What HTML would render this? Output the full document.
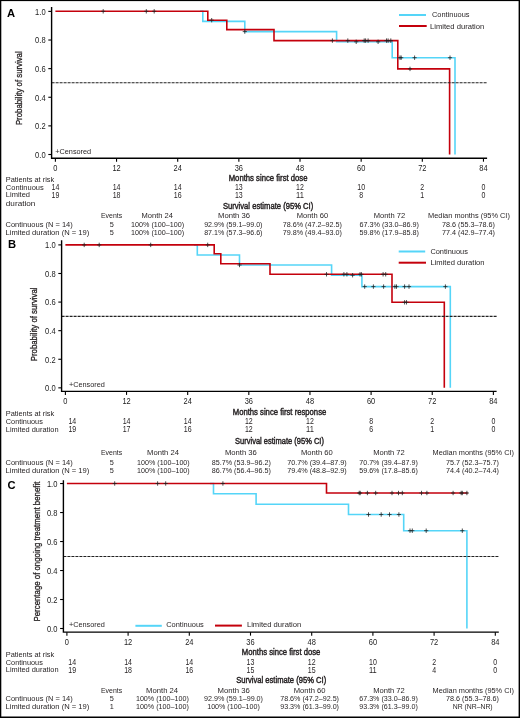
<!DOCTYPE html><html><head><meta charset="utf-8"><style>html,body{margin:0;padding:0;background:#fff;}svg{display:block;will-change:transform;}</style></head><body>
<svg width="520" height="718" viewBox="0 0 520 718" font-family="'Liberation Sans', sans-serif" fill="#231f20">
<rect x="0" y="0" width="520" height="718" fill="#fff"/>
<text x="6.90" y="17.00" font-size="11.2" font-weight="bold" fill="#000">A</text>
<g transform="translate(22.00,88.20) rotate(-90)">
<text x="-36.90" y="0.00" font-size="9.5" textLength="73.80" lengthAdjust="spacingAndGlyphs" stroke="#231f20" stroke-width="0.3">Probability of survival</text>
</g>
<polyline points="200.00,11.30 202.80,11.30 202.80,21.40 244.80,21.40 244.80,31.60 336.60,31.60 336.60,41.80 392.20,41.80 392.20,57.70 455.00,57.70 455.00,154.50" fill="none" stroke="#55d5f8" stroke-width="1.6" stroke-linejoin="miter" stroke-linecap="butt"/>
<polyline points="55.40,11.30 207.80,11.30 207.80,20.20 226.80,20.20 226.80,29.60 274.00,29.60 274.00,40.60 397.80,40.60 397.80,68.90 449.60,68.90 449.60,154.50" fill="none" stroke="#c4000c" stroke-width="1.6" stroke-linejoin="miter" stroke-linecap="butt"/>
<path d="M242.70 31.60H246.90M244.80 29.40V33.80" stroke="#222" stroke-width="0.8" fill="none"/>
<path d="M354.10 41.80H358.30M356.20 39.60V44.00" stroke="#222" stroke-width="0.8" fill="none"/>
<path d="M376.00 41.80H380.20M378.10 39.60V44.00" stroke="#222" stroke-width="0.8" fill="none"/>
<path d="M397.90 57.70H402.10M400.00 55.50V59.90" stroke="#222" stroke-width="0.8" fill="none"/>
<path d="M399.10 57.70H403.30M401.20 55.50V59.90" stroke="#222" stroke-width="0.8" fill="none"/>
<path d="M412.50 57.70H416.70M414.60 55.50V59.90" stroke="#222" stroke-width="0.8" fill="none"/>
<path d="M447.90 57.70H452.10M450.00 55.50V59.90" stroke="#222" stroke-width="0.8" fill="none"/>
<path d="M101.10 11.30H105.30M103.20 9.10V13.50" stroke="#222" stroke-width="0.8" fill="none"/>
<path d="M144.20 11.30H148.40M146.30 9.10V13.50" stroke="#222" stroke-width="0.8" fill="none"/>
<path d="M152.10 11.30H156.30M154.20 9.10V13.50" stroke="#222" stroke-width="0.8" fill="none"/>
<path d="M209.60 20.20H213.80M211.70 18.00V22.40" stroke="#222" stroke-width="0.8" fill="none"/>
<path d="M330.30 40.60H334.50M332.40 38.40V42.80" stroke="#222" stroke-width="0.8" fill="none"/>
<path d="M345.70 40.60H349.90M347.80 38.40V42.80" stroke="#222" stroke-width="0.8" fill="none"/>
<path d="M362.10 40.60H366.30M364.20 38.40V42.80" stroke="#222" stroke-width="0.8" fill="none"/>
<path d="M363.50 40.60H367.70M365.60 38.40V42.80" stroke="#222" stroke-width="0.8" fill="none"/>
<path d="M366.00 40.60H370.20M368.10 38.40V42.80" stroke="#222" stroke-width="0.8" fill="none"/>
<path d="M384.40 40.60H388.60M386.50 38.40V42.80" stroke="#222" stroke-width="0.8" fill="none"/>
<path d="M386.00 40.60H390.20M388.10 38.40V42.80" stroke="#222" stroke-width="0.8" fill="none"/>
<path d="M388.70 40.60H392.90M390.80 38.40V42.80" stroke="#222" stroke-width="0.8" fill="none"/>
<path d="M407.90 68.90H412.10M410.00 66.70V71.10" stroke="#222" stroke-width="0.8" fill="none"/>
<line x1="51.60" y1="82.70" x2="487.00" y2="82.70" stroke="#222" stroke-width="1.15" stroke-dasharray="3 1"/>
<path d="M51.60 6.90V158.20H487.10" stroke="#000" stroke-width="1.4" fill="none" stroke-linecap="butt" stroke-linejoin="miter"/>
<line x1="48.30" y1="154.50" x2="51.60" y2="154.50" stroke="#000" stroke-width="1.1"/>
<text x="35.10" y="157.80" font-size="8.6" textLength="10.50" lengthAdjust="spacingAndGlyphs" fill="#222">0.0</text>
<line x1="48.30" y1="125.88" x2="51.60" y2="125.88" stroke="#000" stroke-width="1.1"/>
<text x="35.10" y="129.18" font-size="8.6" textLength="10.50" lengthAdjust="spacingAndGlyphs" fill="#222">0.2</text>
<line x1="48.30" y1="97.26" x2="51.60" y2="97.26" stroke="#000" stroke-width="1.1"/>
<text x="35.10" y="100.56" font-size="8.6" textLength="10.50" lengthAdjust="spacingAndGlyphs" fill="#222">0.4</text>
<line x1="48.30" y1="68.64" x2="51.60" y2="68.64" stroke="#000" stroke-width="1.1"/>
<text x="35.10" y="71.94" font-size="8.6" textLength="10.50" lengthAdjust="spacingAndGlyphs" fill="#222">0.6</text>
<line x1="48.30" y1="40.02" x2="51.60" y2="40.02" stroke="#000" stroke-width="1.1"/>
<text x="35.10" y="43.32" font-size="8.6" textLength="10.50" lengthAdjust="spacingAndGlyphs" fill="#222">0.8</text>
<line x1="48.30" y1="11.40" x2="51.60" y2="11.40" stroke="#000" stroke-width="1.1"/>
<text x="35.10" y="14.70" font-size="8.6" textLength="10.50" lengthAdjust="spacingAndGlyphs" fill="#222">1.0</text>
<line x1="55.40" y1="158.20" x2="55.40" y2="161.70" stroke="#000" stroke-width="1.1"/>
<text x="53.32" y="170.50" font-size="8.6" textLength="4.15" lengthAdjust="spacingAndGlyphs" fill="#222">0</text>
<line x1="116.55" y1="158.20" x2="116.55" y2="161.70" stroke="#000" stroke-width="1.1"/>
<text x="112.40" y="170.50" font-size="8.6" textLength="8.30" lengthAdjust="spacingAndGlyphs" fill="#222">12</text>
<line x1="177.70" y1="158.20" x2="177.70" y2="161.70" stroke="#000" stroke-width="1.1"/>
<text x="173.55" y="170.50" font-size="8.6" textLength="8.30" lengthAdjust="spacingAndGlyphs" fill="#222">24</text>
<line x1="238.86" y1="158.20" x2="238.86" y2="161.70" stroke="#000" stroke-width="1.1"/>
<text x="234.71" y="170.50" font-size="8.6" textLength="8.30" lengthAdjust="spacingAndGlyphs" fill="#222">36</text>
<line x1="300.01" y1="158.20" x2="300.01" y2="161.70" stroke="#000" stroke-width="1.1"/>
<text x="295.86" y="170.50" font-size="8.6" textLength="8.30" lengthAdjust="spacingAndGlyphs" fill="#222">48</text>
<line x1="361.16" y1="158.20" x2="361.16" y2="161.70" stroke="#000" stroke-width="1.1"/>
<text x="357.01" y="170.50" font-size="8.6" textLength="8.30" lengthAdjust="spacingAndGlyphs" fill="#222">60</text>
<line x1="422.31" y1="158.20" x2="422.31" y2="161.70" stroke="#000" stroke-width="1.1"/>
<text x="418.16" y="170.50" font-size="8.6" textLength="8.30" lengthAdjust="spacingAndGlyphs" fill="#222">72</text>
<line x1="483.46" y1="158.20" x2="483.46" y2="161.70" stroke="#000" stroke-width="1.1"/>
<text x="479.31" y="170.50" font-size="8.6" textLength="8.30" lengthAdjust="spacingAndGlyphs" fill="#222">84</text>
<text x="55.20" y="153.60" font-size="7.3" textLength="36.00" lengthAdjust="spacingAndGlyphs">+Censored</text>
<line x1="399.00" y1="15.00" x2="426.00" y2="15.00" stroke="#55d5f8" stroke-width="2.0"/>
<line x1="399.00" y1="26.00" x2="426.70" y2="26.00" stroke="#c4000c" stroke-width="2.0"/>
<text x="432.00" y="17.30" font-size="7.3" textLength="37.50" lengthAdjust="spacingAndGlyphs">Continuous</text>
<text x="430.00" y="28.50" font-size="7.3" textLength="54.30" lengthAdjust="spacingAndGlyphs">Limited duration</text>
<text x="228.70" y="180.60" font-size="9.2" textLength="78.80" lengthAdjust="spacingAndGlyphs" stroke="#231f20" stroke-width="0.45">Months since first dose</text>
<text x="5.80" y="181.50" font-size="7.3" textLength="48.40" lengthAdjust="spacingAndGlyphs">Patients at risk</text>
<text x="5.80" y="189.60" font-size="7.3" textLength="38.00" lengthAdjust="spacingAndGlyphs">Continuous</text>
<text x="5.80" y="197.30" font-size="7.3" textLength="24.20" lengthAdjust="spacingAndGlyphs">Limited</text>
<text x="5.80" y="205.80" font-size="7.3" textLength="29.60" lengthAdjust="spacingAndGlyphs">duration</text>
<text x="51.50" y="189.90" font-size="8.4" textLength="7.80" lengthAdjust="spacingAndGlyphs">14</text>
<text x="112.65" y="189.90" font-size="8.4" textLength="7.80" lengthAdjust="spacingAndGlyphs">14</text>
<text x="173.80" y="189.90" font-size="8.4" textLength="7.80" lengthAdjust="spacingAndGlyphs">14</text>
<text x="234.96" y="189.90" font-size="8.4" textLength="7.80" lengthAdjust="spacingAndGlyphs">13</text>
<text x="296.11" y="189.90" font-size="8.4" textLength="7.80" lengthAdjust="spacingAndGlyphs">12</text>
<text x="357.26" y="189.90" font-size="8.4" textLength="7.80" lengthAdjust="spacingAndGlyphs">10</text>
<text x="420.36" y="189.90" font-size="8.4" textLength="3.90" lengthAdjust="spacingAndGlyphs">2</text>
<text x="481.51" y="189.90" font-size="8.4" textLength="3.90" lengthAdjust="spacingAndGlyphs">0</text>
<text x="51.50" y="198.10" font-size="8.4" textLength="7.80" lengthAdjust="spacingAndGlyphs">19</text>
<text x="112.65" y="198.10" font-size="8.4" textLength="7.80" lengthAdjust="spacingAndGlyphs">18</text>
<text x="173.80" y="198.10" font-size="8.4" textLength="7.80" lengthAdjust="spacingAndGlyphs">16</text>
<text x="234.96" y="198.10" font-size="8.4" textLength="7.80" lengthAdjust="spacingAndGlyphs">13</text>
<text x="296.11" y="198.10" font-size="8.4" textLength="7.80" lengthAdjust="spacingAndGlyphs">11</text>
<text x="359.21" y="198.10" font-size="8.4" textLength="3.90" lengthAdjust="spacingAndGlyphs">8</text>
<text x="420.36" y="198.10" font-size="8.4" textLength="3.90" lengthAdjust="spacingAndGlyphs">1</text>
<text x="481.51" y="198.10" font-size="8.4" textLength="3.90" lengthAdjust="spacingAndGlyphs">0</text>
<text x="222.90" y="208.50" font-size="9.2" textLength="90.40" lengthAdjust="spacingAndGlyphs" stroke="#231f20" stroke-width="0.45">Survival estimate (95% CI)</text>
<text x="101.00" y="218.30" font-size="7.3" textLength="21.20" lengthAdjust="spacingAndGlyphs">Events</text>
<text x="141.45" y="218.30" font-size="7.3" textLength="31.50" lengthAdjust="spacingAndGlyphs">Month 24</text>
<text x="218.00" y="218.30" font-size="7.3" textLength="32.00" lengthAdjust="spacingAndGlyphs">Month 36</text>
<text x="296.65" y="218.30" font-size="7.3" textLength="31.50" lengthAdjust="spacingAndGlyphs">Month 60</text>
<text x="373.65" y="218.30" font-size="7.3" textLength="31.50" lengthAdjust="spacingAndGlyphs">Month 72</text>
<text x="428.10" y="218.30" font-size="7.3" textLength="81.80" lengthAdjust="spacingAndGlyphs">Median months (95% CI)</text>
<text x="5.50" y="226.80" font-size="7.3" textLength="67.30" lengthAdjust="spacingAndGlyphs">Continuous (N = 14)</text>
<text x="111.70" y="226.80" font-size="7.3" text-anchor="middle">5</text>
<text x="131.10" y="226.80" font-size="7.3" textLength="53.00" lengthAdjust="spacingAndGlyphs">100% (100–100)</text>
<text x="204.15" y="226.80" font-size="7.3" textLength="58.30" lengthAdjust="spacingAndGlyphs">92.9% (59.1–99.0)</text>
<text x="282.80" y="226.80" font-size="7.3" textLength="59.00" lengthAdjust="spacingAndGlyphs">78.6% (47.2–92.5)</text>
<text x="359.45" y="226.80" font-size="7.3" textLength="59.50" lengthAdjust="spacingAndGlyphs">67.3% (33.0–86.9)</text>
<text x="442.00" y="226.80" font-size="7.3" textLength="53.00" lengthAdjust="spacingAndGlyphs">78.6 (55.3–78.6)</text>
<text x="5.50" y="234.90" font-size="7.3" textLength="83.80" lengthAdjust="spacingAndGlyphs">Limited duration (N = 19)</text>
<text x="111.70" y="234.90" font-size="7.3" text-anchor="middle">5</text>
<text x="131.10" y="234.90" font-size="7.3" textLength="53.00" lengthAdjust="spacingAndGlyphs">100% (100–100)</text>
<text x="204.15" y="234.90" font-size="7.3" textLength="58.30" lengthAdjust="spacingAndGlyphs">87.1% (57.3–96.6)</text>
<text x="282.80" y="234.90" font-size="7.3" textLength="59.00" lengthAdjust="spacingAndGlyphs">79.8% (49.4–93.0)</text>
<text x="359.45" y="234.90" font-size="7.3" textLength="59.50" lengthAdjust="spacingAndGlyphs">59.8% (17.9–85.8)</text>
<text x="442.00" y="234.90" font-size="7.3" textLength="53.00" lengthAdjust="spacingAndGlyphs">77.4 (42.9–77.4)</text>
<text x="8.00" y="248.20" font-size="11.2" font-weight="bold" fill="#000">B</text>
<g transform="translate(36.90,324.35) rotate(-90)">
<text x="-36.95" y="0.00" font-size="9.5" textLength="73.90" lengthAdjust="spacingAndGlyphs" stroke="#231f20" stroke-width="0.3">Probability of survival</text>
</g>
<polyline points="194.00,244.90 197.30,244.90 197.30,255.00 239.50,255.00 239.50,265.00 331.60,265.00 331.60,275.20 361.90,275.20 361.90,286.60 450.30,286.60 450.30,387.85" fill="none" stroke="#55d5f8" stroke-width="1.6" stroke-linejoin="miter" stroke-linecap="butt"/>
<polyline points="65.40,244.90 214.20,244.90 214.20,253.80 220.80,253.80 220.80,263.70 270.00,263.70 270.00,274.30 392.00,274.30 392.00,302.30 444.30,302.30 444.30,387.85" fill="none" stroke="#c4000c" stroke-width="1.6" stroke-linejoin="miter" stroke-linecap="butt"/>
<path d="M237.40 265.00H241.60M239.50 262.80V267.20" stroke="#222" stroke-width="0.8" fill="none"/>
<path d="M350.50 275.20H354.70M352.60 273.00V277.40" stroke="#222" stroke-width="0.8" fill="none"/>
<path d="M362.60 286.60H366.80M364.70 284.40V288.80" stroke="#222" stroke-width="0.8" fill="none"/>
<path d="M371.30 286.60H375.50M373.40 284.40V288.80" stroke="#222" stroke-width="0.8" fill="none"/>
<path d="M381.50 286.60H385.70M383.60 284.40V288.80" stroke="#222" stroke-width="0.8" fill="none"/>
<path d="M392.80 286.60H397.00M394.90 284.40V288.80" stroke="#222" stroke-width="0.8" fill="none"/>
<path d="M394.40 286.60H398.60M396.50 284.40V288.80" stroke="#222" stroke-width="0.8" fill="none"/>
<path d="M402.50 286.60H406.70M404.60 284.40V288.80" stroke="#222" stroke-width="0.8" fill="none"/>
<path d="M406.90 286.60H411.10M409.00 284.40V288.80" stroke="#222" stroke-width="0.8" fill="none"/>
<path d="M443.30 286.60H447.50M445.40 284.40V288.80" stroke="#222" stroke-width="0.8" fill="none"/>
<path d="M82.10 244.90H86.30M84.20 242.70V247.10" stroke="#222" stroke-width="0.8" fill="none"/>
<path d="M97.10 244.90H101.30M99.20 242.70V247.10" stroke="#222" stroke-width="0.8" fill="none"/>
<path d="M148.60 244.90H152.80M150.70 242.70V247.10" stroke="#222" stroke-width="0.8" fill="none"/>
<path d="M205.60 244.90H209.80M207.70 242.70V247.10" stroke="#222" stroke-width="0.8" fill="none"/>
<path d="M324.40 274.30H328.60M326.50 272.10V276.50" stroke="#222" stroke-width="0.8" fill="none"/>
<path d="M341.80 274.30H346.00M343.90 272.10V276.50" stroke="#222" stroke-width="0.8" fill="none"/>
<path d="M344.80 274.30H349.00M346.90 272.10V276.50" stroke="#222" stroke-width="0.8" fill="none"/>
<path d="M357.90 274.30H362.10M360.00 272.10V276.50" stroke="#222" stroke-width="0.8" fill="none"/>
<path d="M359.30 274.30H363.50M361.40 272.10V276.50" stroke="#222" stroke-width="0.8" fill="none"/>
<path d="M381.00 274.30H385.20M383.10 272.10V276.50" stroke="#222" stroke-width="0.8" fill="none"/>
<path d="M383.60 274.30H387.80M385.70 272.10V276.50" stroke="#222" stroke-width="0.8" fill="none"/>
<path d="M402.50 302.30H406.70M404.60 300.10V304.50" stroke="#222" stroke-width="0.8" fill="none"/>
<path d="M404.40 302.30H408.60M406.50 300.10V304.50" stroke="#222" stroke-width="0.8" fill="none"/>
<line x1="61.60" y1="316.30" x2="496.60" y2="316.30" stroke="#222" stroke-width="1.15" stroke-dasharray="3 1"/>
<path d="M61.60 240.30V391.40H496.60" stroke="#000" stroke-width="1.4" fill="none" stroke-linecap="butt" stroke-linejoin="miter"/>
<line x1="58.30" y1="387.85" x2="61.60" y2="387.85" stroke="#000" stroke-width="1.1"/>
<text x="45.10" y="391.15" font-size="8.6" textLength="10.50" lengthAdjust="spacingAndGlyphs" fill="#222">0.0</text>
<line x1="58.30" y1="359.26" x2="61.60" y2="359.26" stroke="#000" stroke-width="1.1"/>
<text x="45.10" y="362.56" font-size="8.6" textLength="10.50" lengthAdjust="spacingAndGlyphs" fill="#222">0.2</text>
<line x1="58.30" y1="330.67" x2="61.60" y2="330.67" stroke="#000" stroke-width="1.1"/>
<text x="45.10" y="333.97" font-size="8.6" textLength="10.50" lengthAdjust="spacingAndGlyphs" fill="#222">0.4</text>
<line x1="58.30" y1="302.08" x2="61.60" y2="302.08" stroke="#000" stroke-width="1.1"/>
<text x="45.10" y="305.38" font-size="8.6" textLength="10.50" lengthAdjust="spacingAndGlyphs" fill="#222">0.6</text>
<line x1="58.30" y1="273.49" x2="61.60" y2="273.49" stroke="#000" stroke-width="1.1"/>
<text x="45.10" y="276.79" font-size="8.6" textLength="10.50" lengthAdjust="spacingAndGlyphs" fill="#222">0.8</text>
<line x1="58.30" y1="244.90" x2="61.60" y2="244.90" stroke="#000" stroke-width="1.1"/>
<text x="45.10" y="248.20" font-size="8.6" textLength="10.50" lengthAdjust="spacingAndGlyphs" fill="#222">1.0</text>
<line x1="65.40" y1="391.40" x2="65.40" y2="394.90" stroke="#000" stroke-width="1.1"/>
<text x="63.33" y="403.80" font-size="8.6" textLength="4.15" lengthAdjust="spacingAndGlyphs" fill="#222">0</text>
<line x1="126.54" y1="391.40" x2="126.54" y2="394.90" stroke="#000" stroke-width="1.1"/>
<text x="122.39" y="403.80" font-size="8.6" textLength="8.30" lengthAdjust="spacingAndGlyphs" fill="#222">12</text>
<line x1="187.68" y1="391.40" x2="187.68" y2="394.90" stroke="#000" stroke-width="1.1"/>
<text x="183.53" y="403.80" font-size="8.6" textLength="8.30" lengthAdjust="spacingAndGlyphs" fill="#222">24</text>
<line x1="248.82" y1="391.40" x2="248.82" y2="394.90" stroke="#000" stroke-width="1.1"/>
<text x="244.67" y="403.80" font-size="8.6" textLength="8.30" lengthAdjust="spacingAndGlyphs" fill="#222">36</text>
<line x1="309.96" y1="391.40" x2="309.96" y2="394.90" stroke="#000" stroke-width="1.1"/>
<text x="305.81" y="403.80" font-size="8.6" textLength="8.30" lengthAdjust="spacingAndGlyphs" fill="#222">48</text>
<line x1="371.10" y1="391.40" x2="371.10" y2="394.90" stroke="#000" stroke-width="1.1"/>
<text x="366.95" y="403.80" font-size="8.6" textLength="8.30" lengthAdjust="spacingAndGlyphs" fill="#222">60</text>
<line x1="432.24" y1="391.40" x2="432.24" y2="394.90" stroke="#000" stroke-width="1.1"/>
<text x="428.09" y="403.80" font-size="8.6" textLength="8.30" lengthAdjust="spacingAndGlyphs" fill="#222">72</text>
<line x1="493.38" y1="391.40" x2="493.38" y2="394.90" stroke="#000" stroke-width="1.1"/>
<text x="489.23" y="403.80" font-size="8.6" textLength="8.30" lengthAdjust="spacingAndGlyphs" fill="#222">84</text>
<text x="68.90" y="386.90" font-size="7.3" textLength="36.00" lengthAdjust="spacingAndGlyphs">+Censored</text>
<line x1="398.70" y1="251.50" x2="425.20" y2="251.50" stroke="#55d5f8" stroke-width="2.0"/>
<line x1="398.70" y1="262.70" x2="426.00" y2="262.70" stroke="#c4000c" stroke-width="2.0"/>
<text x="430.40" y="254.00" font-size="7.3" textLength="37.50" lengthAdjust="spacingAndGlyphs">Continuous</text>
<text x="430.40" y="265.40" font-size="7.3" textLength="54.20" lengthAdjust="spacingAndGlyphs">Limited duration</text>
<text x="232.75" y="414.60" font-size="9.2" textLength="93.50" lengthAdjust="spacingAndGlyphs" stroke="#231f20" stroke-width="0.45">Months since first response</text>
<text x="5.80" y="415.80" font-size="7.3" textLength="48.40" lengthAdjust="spacingAndGlyphs">Patients at risk</text>
<text x="5.80" y="424.20" font-size="7.3" textLength="37.00" lengthAdjust="spacingAndGlyphs">Continuous</text>
<text x="5.80" y="431.60" font-size="7.3" textLength="52.70" lengthAdjust="spacingAndGlyphs">Limited duration</text>
<text x="68.40" y="424.10" font-size="8.4" textLength="7.80" lengthAdjust="spacingAndGlyphs">14</text>
<text x="122.64" y="424.10" font-size="8.4" textLength="7.80" lengthAdjust="spacingAndGlyphs">14</text>
<text x="183.78" y="424.10" font-size="8.4" textLength="7.80" lengthAdjust="spacingAndGlyphs">14</text>
<text x="244.92" y="424.10" font-size="8.4" textLength="7.80" lengthAdjust="spacingAndGlyphs">12</text>
<text x="306.06" y="424.10" font-size="8.4" textLength="7.80" lengthAdjust="spacingAndGlyphs">12</text>
<text x="369.15" y="424.10" font-size="8.4" textLength="3.90" lengthAdjust="spacingAndGlyphs">8</text>
<text x="430.29" y="424.10" font-size="8.4" textLength="3.90" lengthAdjust="spacingAndGlyphs">2</text>
<text x="491.43" y="424.10" font-size="8.4" textLength="3.90" lengthAdjust="spacingAndGlyphs">0</text>
<text x="68.40" y="431.80" font-size="8.4" textLength="7.80" lengthAdjust="spacingAndGlyphs">19</text>
<text x="122.64" y="431.80" font-size="8.4" textLength="7.80" lengthAdjust="spacingAndGlyphs">17</text>
<text x="183.78" y="431.80" font-size="8.4" textLength="7.80" lengthAdjust="spacingAndGlyphs">16</text>
<text x="244.92" y="431.80" font-size="8.4" textLength="7.80" lengthAdjust="spacingAndGlyphs">12</text>
<text x="306.06" y="431.80" font-size="8.4" textLength="7.80" lengthAdjust="spacingAndGlyphs">11</text>
<text x="369.15" y="431.80" font-size="8.4" textLength="3.90" lengthAdjust="spacingAndGlyphs">6</text>
<text x="430.29" y="431.80" font-size="8.4" textLength="3.90" lengthAdjust="spacingAndGlyphs">1</text>
<text x="491.43" y="431.80" font-size="8.4" textLength="3.90" lengthAdjust="spacingAndGlyphs">0</text>
<text x="235.05" y="444.00" font-size="9.2" textLength="88.90" lengthAdjust="spacingAndGlyphs" stroke="#231f20" stroke-width="0.45">Survival estimate (95% CI)</text>
<text x="101.00" y="454.80" font-size="7.3" textLength="21.20" lengthAdjust="spacingAndGlyphs">Events</text>
<text x="147.10" y="454.80" font-size="7.3" textLength="31.80" lengthAdjust="spacingAndGlyphs">Month 24</text>
<text x="224.90" y="454.80" font-size="7.3" textLength="32.00" lengthAdjust="spacingAndGlyphs">Month 36</text>
<text x="301.00" y="454.80" font-size="7.3" textLength="31.80" lengthAdjust="spacingAndGlyphs">Month 60</text>
<text x="373.20" y="454.80" font-size="7.3" textLength="31.60" lengthAdjust="spacingAndGlyphs">Month 72</text>
<text x="432.60" y="454.80" font-size="7.3" textLength="81.40" lengthAdjust="spacingAndGlyphs">Median months (95% CI)</text>
<text x="5.50" y="464.50" font-size="7.3" textLength="67.30" lengthAdjust="spacingAndGlyphs">Continuous (N = 14)</text>
<text x="111.70" y="464.50" font-size="7.3" text-anchor="middle">5</text>
<text x="137.10" y="464.50" font-size="7.3" textLength="52.60" lengthAdjust="spacingAndGlyphs">100% (100–100)</text>
<text x="211.80" y="464.50" font-size="7.3" textLength="59.00" lengthAdjust="spacingAndGlyphs">85.7% (53.9–96.2)</text>
<text x="287.15" y="464.50" font-size="7.3" textLength="59.50" lengthAdjust="spacingAndGlyphs">70.7% (39.4–87.9)</text>
<text x="359.25" y="464.50" font-size="7.3" textLength="58.50" lengthAdjust="spacingAndGlyphs">70.7% (39.4–87.9)</text>
<text x="446.00" y="464.50" font-size="7.3" textLength="53.00" lengthAdjust="spacingAndGlyphs">75.7 (52.3–75.7)</text>
<text x="5.50" y="472.70" font-size="7.3" textLength="83.80" lengthAdjust="spacingAndGlyphs">Limited duration (N = 19)</text>
<text x="111.70" y="472.70" font-size="7.3" text-anchor="middle">5</text>
<text x="137.10" y="472.70" font-size="7.3" textLength="52.60" lengthAdjust="spacingAndGlyphs">100% (100–100)</text>
<text x="211.80" y="472.70" font-size="7.3" textLength="59.00" lengthAdjust="spacingAndGlyphs">86.7% (56.4–96.5)</text>
<text x="287.15" y="472.70" font-size="7.3" textLength="59.50" lengthAdjust="spacingAndGlyphs">79.4% (48.8–92.9)</text>
<text x="359.25" y="472.70" font-size="7.3" textLength="58.50" lengthAdjust="spacingAndGlyphs">59.6% (17.8–85.6)</text>
<text x="446.00" y="472.70" font-size="7.3" textLength="53.00" lengthAdjust="spacingAndGlyphs">74.4 (40.2–74.4)</text>
<text x="7.40" y="488.60" font-size="11.2" font-weight="bold" fill="#000">C</text>
<g transform="translate(39.60,551.55) rotate(-90)">
<text x="-69.95" y="0.00" font-size="9.5" textLength="139.90" lengthAdjust="spacingAndGlyphs" stroke="#231f20" stroke-width="0.3">Percentage of ongoing treatment benefit</text>
</g>
<polyline points="210.00,483.50 213.50,483.50 213.50,493.70 256.10,493.70 256.10,504.20 348.50,504.20 348.50,514.50 403.70,514.50 403.70,530.70 466.90,530.70 466.90,628.50" fill="none" stroke="#55d5f8" stroke-width="1.6" stroke-linejoin="miter" stroke-linecap="butt"/>
<polyline points="66.90,483.50 326.50,483.50 326.50,493.00 467.70,493.00" fill="none" stroke="#c4000c" stroke-width="1.6" stroke-linejoin="miter" stroke-linecap="butt"/>
<path d="M366.40 514.50H370.60M368.50 512.30V516.70" stroke="#222" stroke-width="0.8" fill="none"/>
<path d="M379.10 514.50H383.30M381.20 512.30V516.70" stroke="#222" stroke-width="0.8" fill="none"/>
<path d="M387.40 514.50H391.60M389.50 512.30V516.70" stroke="#222" stroke-width="0.8" fill="none"/>
<path d="M396.80 514.50H401.00M398.90 512.30V516.70" stroke="#222" stroke-width="0.8" fill="none"/>
<path d="M407.90 530.70H412.10M410.00 528.50V532.90" stroke="#222" stroke-width="0.8" fill="none"/>
<path d="M410.20 530.70H414.40M412.30 528.50V532.90" stroke="#222" stroke-width="0.8" fill="none"/>
<path d="M424.10 530.70H428.30M426.20 528.50V532.90" stroke="#222" stroke-width="0.8" fill="none"/>
<path d="M460.20 530.70H464.40M462.30 528.50V532.90" stroke="#222" stroke-width="0.8" fill="none"/>
<path d="M112.60 483.50H116.80M114.70 481.30V485.70" stroke="#222" stroke-width="0.8" fill="none"/>
<path d="M155.50 483.50H159.70M157.60 481.30V485.70" stroke="#222" stroke-width="0.8" fill="none"/>
<path d="M163.60 483.50H167.80M165.70 481.30V485.70" stroke="#222" stroke-width="0.8" fill="none"/>
<path d="M220.80 483.50H225.00M222.90 481.30V485.70" stroke="#222" stroke-width="0.8" fill="none"/>
<path d="M357.10 493.00H361.30M359.20 490.80V495.20" stroke="#222" stroke-width="0.8" fill="none"/>
<path d="M358.10 493.00H362.30M360.20 490.80V495.20" stroke="#222" stroke-width="0.8" fill="none"/>
<path d="M365.30 493.00H369.50M367.40 490.80V495.20" stroke="#222" stroke-width="0.8" fill="none"/>
<path d="M373.60 493.00H377.80M375.70 490.80V495.20" stroke="#222" stroke-width="0.8" fill="none"/>
<path d="M389.90 493.00H394.10M392.00 490.80V495.20" stroke="#222" stroke-width="0.8" fill="none"/>
<path d="M396.40 493.00H400.60M398.50 490.80V495.20" stroke="#222" stroke-width="0.8" fill="none"/>
<path d="M400.20 493.00H404.40M402.30 490.80V495.20" stroke="#222" stroke-width="0.8" fill="none"/>
<path d="M419.40 493.00H423.60M421.50 490.80V495.20" stroke="#222" stroke-width="0.8" fill="none"/>
<path d="M424.80 493.00H429.00M426.90 490.80V495.20" stroke="#222" stroke-width="0.8" fill="none"/>
<path d="M451.00 493.00H455.20M453.10 490.80V495.20" stroke="#222" stroke-width="0.8" fill="none"/>
<path d="M459.10 493.00H463.30M461.20 490.80V495.20" stroke="#222" stroke-width="0.8" fill="none"/>
<path d="M460.20 493.00H464.40M462.30 490.80V495.20" stroke="#222" stroke-width="0.8" fill="none"/>
<path d="M464.80 493.00H469.00M466.90 490.80V495.20" stroke="#222" stroke-width="0.8" fill="none"/>
<line x1="63.40" y1="556.50" x2="498.80" y2="556.50" stroke="#222" stroke-width="1.15" stroke-dasharray="3 1"/>
<path d="M63.40 480.30V632.15H498.80" stroke="#000" stroke-width="1.4" fill="none" stroke-linecap="butt" stroke-linejoin="miter"/>
<line x1="60.10" y1="628.50" x2="63.40" y2="628.50" stroke="#000" stroke-width="1.1"/>
<text x="46.90" y="631.80" font-size="8.6" textLength="10.50" lengthAdjust="spacingAndGlyphs" fill="#222">0.0</text>
<line x1="60.10" y1="599.51" x2="63.40" y2="599.51" stroke="#000" stroke-width="1.1"/>
<text x="46.90" y="602.81" font-size="8.6" textLength="10.50" lengthAdjust="spacingAndGlyphs" fill="#222">0.2</text>
<line x1="60.10" y1="570.52" x2="63.40" y2="570.52" stroke="#000" stroke-width="1.1"/>
<text x="46.90" y="573.82" font-size="8.6" textLength="10.50" lengthAdjust="spacingAndGlyphs" fill="#222">0.4</text>
<line x1="60.10" y1="541.53" x2="63.40" y2="541.53" stroke="#000" stroke-width="1.1"/>
<text x="46.90" y="544.83" font-size="8.6" textLength="10.50" lengthAdjust="spacingAndGlyphs" fill="#222">0.6</text>
<line x1="60.10" y1="512.54" x2="63.40" y2="512.54" stroke="#000" stroke-width="1.1"/>
<text x="46.90" y="515.84" font-size="8.6" textLength="10.50" lengthAdjust="spacingAndGlyphs" fill="#222">0.8</text>
<line x1="60.10" y1="483.55" x2="63.40" y2="483.55" stroke="#000" stroke-width="1.1"/>
<text x="46.90" y="486.85" font-size="8.6" textLength="10.50" lengthAdjust="spacingAndGlyphs" fill="#222">1.0</text>
<line x1="66.90" y1="632.15" x2="66.90" y2="635.65" stroke="#000" stroke-width="1.1"/>
<text x="64.83" y="644.60" font-size="8.6" textLength="4.15" lengthAdjust="spacingAndGlyphs" fill="#222">0</text>
<line x1="128.10" y1="632.15" x2="128.10" y2="635.65" stroke="#000" stroke-width="1.1"/>
<text x="123.95" y="644.60" font-size="8.6" textLength="8.30" lengthAdjust="spacingAndGlyphs" fill="#222">12</text>
<line x1="189.30" y1="632.15" x2="189.30" y2="635.65" stroke="#000" stroke-width="1.1"/>
<text x="185.15" y="644.60" font-size="8.6" textLength="8.30" lengthAdjust="spacingAndGlyphs" fill="#222">24</text>
<line x1="250.50" y1="632.15" x2="250.50" y2="635.65" stroke="#000" stroke-width="1.1"/>
<text x="246.35" y="644.60" font-size="8.6" textLength="8.30" lengthAdjust="spacingAndGlyphs" fill="#222">36</text>
<line x1="311.70" y1="632.15" x2="311.70" y2="635.65" stroke="#000" stroke-width="1.1"/>
<text x="307.55" y="644.60" font-size="8.6" textLength="8.30" lengthAdjust="spacingAndGlyphs" fill="#222">48</text>
<line x1="372.90" y1="632.15" x2="372.90" y2="635.65" stroke="#000" stroke-width="1.1"/>
<text x="368.75" y="644.60" font-size="8.6" textLength="8.30" lengthAdjust="spacingAndGlyphs" fill="#222">60</text>
<line x1="434.10" y1="632.15" x2="434.10" y2="635.65" stroke="#000" stroke-width="1.1"/>
<text x="429.95" y="644.60" font-size="8.6" textLength="8.30" lengthAdjust="spacingAndGlyphs" fill="#222">72</text>
<line x1="495.30" y1="632.15" x2="495.30" y2="635.65" stroke="#000" stroke-width="1.1"/>
<text x="491.15" y="644.60" font-size="8.6" textLength="8.30" lengthAdjust="spacingAndGlyphs" fill="#222">84</text>
<text x="68.90" y="627.00" font-size="7.3" textLength="36.00" lengthAdjust="spacingAndGlyphs">+Censored</text>
<line x1="135.40" y1="625.80" x2="161.80" y2="625.80" stroke="#55d5f8" stroke-width="2.0"/>
<line x1="215.00" y1="625.60" x2="241.90" y2="625.60" stroke="#c4000c" stroke-width="2.0"/>
<text x="166.20" y="627.30" font-size="7.3" textLength="37.60" lengthAdjust="spacingAndGlyphs">Continuous</text>
<text x="246.90" y="627.30" font-size="7.3" textLength="54.30" lengthAdjust="spacingAndGlyphs">Limited duration</text>
<text x="241.85" y="654.60" font-size="9.2" textLength="78.50" lengthAdjust="spacingAndGlyphs" stroke="#231f20" stroke-width="0.45">Months since first dose</text>
<text x="5.80" y="657.20" font-size="7.3" textLength="48.40" lengthAdjust="spacingAndGlyphs">Patients at risk</text>
<text x="5.80" y="664.60" font-size="7.3" textLength="37.00" lengthAdjust="spacingAndGlyphs">Continuous</text>
<text x="5.80" y="672.30" font-size="7.3" textLength="52.70" lengthAdjust="spacingAndGlyphs">Limited duration</text>
<text x="68.30" y="664.70" font-size="8.4" textLength="7.80" lengthAdjust="spacingAndGlyphs">14</text>
<text x="124.20" y="664.70" font-size="8.4" textLength="7.80" lengthAdjust="spacingAndGlyphs">14</text>
<text x="185.40" y="664.70" font-size="8.4" textLength="7.80" lengthAdjust="spacingAndGlyphs">14</text>
<text x="246.60" y="664.70" font-size="8.4" textLength="7.80" lengthAdjust="spacingAndGlyphs">13</text>
<text x="307.80" y="664.70" font-size="8.4" textLength="7.80" lengthAdjust="spacingAndGlyphs">12</text>
<text x="369.00" y="664.70" font-size="8.4" textLength="7.80" lengthAdjust="spacingAndGlyphs">10</text>
<text x="432.15" y="664.70" font-size="8.4" textLength="3.90" lengthAdjust="spacingAndGlyphs">2</text>
<text x="493.35" y="664.70" font-size="8.4" textLength="3.90" lengthAdjust="spacingAndGlyphs">0</text>
<text x="68.30" y="672.80" font-size="8.4" textLength="7.80" lengthAdjust="spacingAndGlyphs">19</text>
<text x="124.20" y="672.80" font-size="8.4" textLength="7.80" lengthAdjust="spacingAndGlyphs">18</text>
<text x="185.40" y="672.80" font-size="8.4" textLength="7.80" lengthAdjust="spacingAndGlyphs">16</text>
<text x="246.60" y="672.80" font-size="8.4" textLength="7.80" lengthAdjust="spacingAndGlyphs">15</text>
<text x="307.80" y="672.80" font-size="8.4" textLength="7.80" lengthAdjust="spacingAndGlyphs">15</text>
<text x="369.00" y="672.80" font-size="8.4" textLength="7.80" lengthAdjust="spacingAndGlyphs">11</text>
<text x="432.15" y="672.80" font-size="8.4" textLength="3.90" lengthAdjust="spacingAndGlyphs">4</text>
<text x="493.35" y="672.80" font-size="8.4" textLength="3.90" lengthAdjust="spacingAndGlyphs">0</text>
<text x="236.20" y="683.00" font-size="9.2" textLength="90.00" lengthAdjust="spacingAndGlyphs" stroke="#231f20" stroke-width="0.45">Survival estimate (95% CI)</text>
<text x="101.00" y="692.80" font-size="7.3" textLength="21.20" lengthAdjust="spacingAndGlyphs">Events</text>
<text x="146.10" y="692.80" font-size="7.3" textLength="32.00" lengthAdjust="spacingAndGlyphs">Month 24</text>
<text x="217.55" y="692.80" font-size="7.3" textLength="32.30" lengthAdjust="spacingAndGlyphs">Month 36</text>
<text x="293.70" y="692.80" font-size="7.3" textLength="31.80" lengthAdjust="spacingAndGlyphs">Month 60</text>
<text x="373.20" y="692.80" font-size="7.3" textLength="31.60" lengthAdjust="spacingAndGlyphs">Month 72</text>
<text x="432.60" y="692.80" font-size="7.3" textLength="81.40" lengthAdjust="spacingAndGlyphs">Median months (95% CI)</text>
<text x="5.50" y="701.20" font-size="7.3" textLength="67.30" lengthAdjust="spacingAndGlyphs">Continuous (N = 14)</text>
<text x="111.70" y="701.20" font-size="7.3" text-anchor="middle">5</text>
<text x="135.90" y="701.20" font-size="7.3" textLength="53.00" lengthAdjust="spacingAndGlyphs">100% (100–100)</text>
<text x="204.00" y="701.20" font-size="7.3" textLength="59.00" lengthAdjust="spacingAndGlyphs">92.9% (59.1–99.0)</text>
<text x="280.20" y="701.20" font-size="7.3" textLength="58.80" lengthAdjust="spacingAndGlyphs">78.6% (47.2–92.5)</text>
<text x="359.25" y="701.20" font-size="7.3" textLength="58.50" lengthAdjust="spacingAndGlyphs">67.3% (33.0–86.9)</text>
<text x="446.00" y="701.20" font-size="7.3" textLength="53.00" lengthAdjust="spacingAndGlyphs">78.6 (55.3–78.6)</text>
<text x="5.50" y="709.30" font-size="7.3" textLength="83.80" lengthAdjust="spacingAndGlyphs">Limited duration (N = 19)</text>
<text x="111.70" y="709.30" font-size="7.3" text-anchor="middle">1</text>
<text x="135.90" y="709.30" font-size="7.3" textLength="53.00" lengthAdjust="spacingAndGlyphs">100% (100–100)</text>
<text x="207.20" y="709.30" font-size="7.3" textLength="52.60" lengthAdjust="spacingAndGlyphs">100% (100–100)</text>
<text x="280.20" y="709.30" font-size="7.3" textLength="58.80" lengthAdjust="spacingAndGlyphs">93.3% (61.3–99.0)</text>
<text x="359.25" y="709.30" font-size="7.3" textLength="58.50" lengthAdjust="spacingAndGlyphs">93.3% (61.3–99.0)</text>
<text x="452.75" y="709.30" font-size="7.3" textLength="39.90" lengthAdjust="spacingAndGlyphs">NR (NR–NR)</text>
<rect x="0" y="0" width="1.3" height="718" fill="#000"/>
<rect x="0" y="0" width="520" height="1.1" fill="#000"/>
<rect x="518.6" y="0" width="1.4" height="718" fill="#000"/>
<rect x="0" y="716.5" width="520" height="1.5" fill="#000"/>
</svg></body></html>
